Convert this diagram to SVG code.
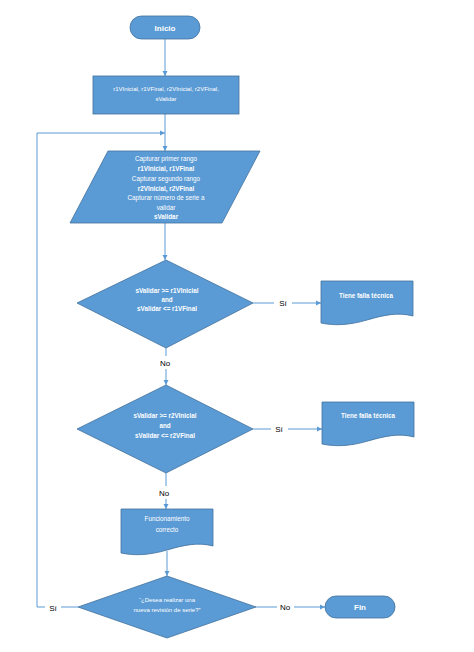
<svg xmlns="http://www.w3.org/2000/svg" width="474" height="652" viewBox="0 0 474 652">
<style>
.shape{fill:#5B9BD5;stroke:#41719C;stroke-width:0.8}
.conn{fill:none;stroke:#5B9BD5;stroke-width:1}
.t{font-family:"Liberation Sans",Arial,sans-serif;fill:#ffffff;text-anchor:middle}
.b{font-weight:bold}
.lbl{font-family:"Liberation Sans",Arial,sans-serif;fill:#000000;font-size:8px;text-anchor:middle}
</style>
<defs>
<marker id="arr" markerWidth="6" markerHeight="6" refX="5" refY="3" orient="auto" markerUnits="userSpaceOnUse">
<path d="M0,0.5 L5,3 L0,5.5 Z" fill="#5B9BD5"/>
</marker>
</defs>
<rect width="474" height="652" fill="#ffffff"/>
<g id="connectors">
<path class="conn" d="M165,39 V76" marker-end="url(#arr)"/>
<path class="conn" d="M165,114 V151" marker-end="url(#arr)"/>
<path class="conn" d="M165,223 V260" marker-end="url(#arr)"/>
<path class="conn" d="M253,303 H274"/>
<path class="conn" d="M292,303 H321" marker-end="url(#arr)"/>
<path class="conn" d="M166,348 V356"/>
<path class="conn" d="M166,369 V385" marker-end="url(#arr)"/>
<path class="conn" d="M253,429 H271"/>
<path class="conn" d="M288,429 H322" marker-end="url(#arr)"/>
<path class="conn" d="M166,473 V486"/>
<path class="conn" d="M166,499 V509" marker-end="url(#arr)"/>
<path class="conn" d="M167,551 V576" marker-end="url(#arr)"/>
<path class="conn" d="M256,607 H277"/>
<path class="conn" d="M294,607 H325" marker-end="url(#arr)"/>
<path class="conn" d="M78,607 H61"/>
<path class="conn" d="M45,607 H37 V133 H165" marker-end="url(#arr)"/>
<text class="lbl" x="283" y="306">Sí</text>
<text class="lbl" x="165" y="366">No</text>
<text class="lbl" x="279" y="432">Sí</text>
<text class="lbl" x="164" y="496">No</text>
<text class="lbl" x="285" y="610">No</text>
<text class="lbl" x="53" y="611">Sí</text>
</g>
<g id="inicio">
<rect class="shape" x="130" y="16" width="70" height="23" rx="11.5"/>
<text class="t b" x="165" y="30.5" font-size="8">Inicio</text>
</g>
<g id="variables">
<rect class="shape" x="93" y="76" width="146" height="38"/>
<text class="t" x="166" y="91" font-size="6">r1VInicial, r1VFinal, r2VInicial, r2VFinal,</text>
<text class="t" x="166" y="101" font-size="6">sValidar</text>
</g>
<g id="captura">
<polygon class="shape" points="108,151 260,151 222,223 70,223"/>
<text class="t" x="166" y="161" font-size="6.3">Capturar primer rango</text>
<text class="t b" x="166" y="171" font-size="6.3">r1VInicial, r1VFinal</text>
<text class="t" x="166" y="181" font-size="6.3">Capturar segundo rango</text>
<text class="t b" x="166" y="190.5" font-size="6.3">r2VInicial, r2VFinal</text>
<text class="t" x="166" y="200" font-size="6.3">Capturar número de serie a</text>
<text class="t" x="166" y="209.5" font-size="6.3">validar</text>
<text class="t b" x="166" y="219" font-size="6.3">sValidar</text>
</g>
<g id="decision1">
<polygon class="shape" points="166,260 253,303 166,348 77,303"/>
<text class="t b" x="167" y="293" font-size="6.3">sValidar &gt;= r1VInicial</text>
<text class="t b" x="167" y="302" font-size="6.3">and</text>
<text class="t b" x="167" y="311" font-size="6.3">sValidar &lt;= r1VFinal</text>
</g>
<g id="falla1">
<path class="shape" d="M321,281 H413 V316 C398,312 384,315 367,320 C350,325 335,326 321,323 Z"/>
<text class="t b" x="366" y="298" font-size="6.3">Tiene falla  técnica</text>
</g>
<g id="decision2">
<polygon class="shape" points="166,385 253,429 166,473 77,429"/>
<text class="t b" x="165" y="418" font-size="6.3">sValidar &gt;= r2VInicial</text>
<text class="t b" x="165" y="427.5" font-size="6.3">and</text>
<text class="t b" x="165" y="437.5" font-size="6.3">sValidar &lt;= r2VFinal</text>
</g>
<g id="falla2">
<path class="shape" d="M322,402 H414 V437 C399,433 385,436 368,441 C351,446 336,447 322,444 Z"/>
<text class="t b" x="368" y="418" font-size="6.3">Tiene falla  técnica</text>
</g>
<g id="correcto">
<path class="shape" d="M121,509 H213 V546 C198,542 184,545 167,550 C150,555 135,556 121,553 Z"/>
<text class="t" x="167" y="521" font-size="6.3">Funcionamiento</text>
<text class="t" x="167" y="531.5" font-size="6.3">correcto</text>
</g>
<g id="decision3">
<polygon class="shape" points="167,576 256,607 167,638 78,607"/>
<text class="t" x="167" y="602" font-size="6">“¿Desea realizar una</text>
<text class="t" x="167" y="611.5" font-size="6">nueva revisión de serie?”</text>
</g>
<g id="fin">
<rect class="shape" x="325" y="596" width="70" height="22" rx="11"/>
<text class="t b" x="360" y="610" font-size="8">Fin</text>
</g>
</svg>
